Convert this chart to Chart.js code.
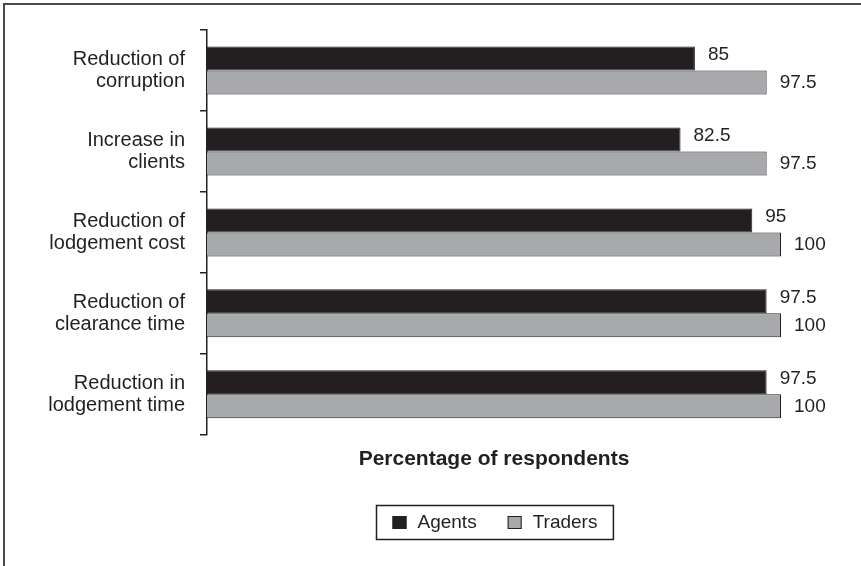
<!DOCTYPE html>
<html>
<head>
<meta charset="utf-8">
<script src="https://cdn.jsdelivr.net/npm/chart.js@4"></script>
<style>
  html, body { margin: 0; padding: 0; background: #fff; }
  #wrap { width: 861px; height: 566px; position: relative; }
</style>
</head>
<body>
<div id="wrap"><canvas id="c" width="861" height="566"></canvas></div>
<script>
// Benefits of the electronic lodgement system, by respondent group
const categories = [
  ['Reduction of', 'corruption'],
  ['Increase in', 'clients'],
  ['Reduction of', 'lodgement cost'],
  ['Reduction of', 'clearance time'],
  ['Reduction in', 'lodgement time']
];
const agents  = [85, 82.5, 95, 97.5, 97.5];
const traders = [97.5, 97.5, 100, 100, 100];
const seriesNames = ['Agents', 'Traders'];
const xAxisTitle = 'Percentage of respondents';

const INK = '#231f20';
const GREY = '#a7a9ac';
const FONT = '"Liberation Sans", Arial, Helvetica, sans-serif';

// Thin frame along the top and left edges of the figure
const framePlugin = {
  id: 'frame',
  beforeDraw(chart) {
    const ctx = chart.ctx;
    ctx.save();
    ctx.fillStyle = '#fff';
    ctx.fillRect(0, 0, chart.width, chart.height);
    ctx.strokeStyle = '#4a4a4a';
    ctx.lineWidth = 2;
    ctx.beginPath();
    ctx.moveTo(4, chart.height);
    ctx.lineTo(4, 4);
    ctx.lineTo(chart.width, 4);
    ctx.stroke();
    ctx.restore();
  }
};

// Value written just past the end of each bar
const valueLabels = {
  id: 'valueLabels',
  afterDatasetsDraw(chart) {
    const ctx = chart.ctx;
    ctx.save();
    ctx.font = '19px ' + FONT;
    ctx.fillStyle = INK;
    ctx.textAlign = 'left';
    ctx.textBaseline = 'middle';
    chart.data.datasets.forEach((ds, di) => {
      const meta = chart.getDatasetMeta(di);
      meta.data.forEach((bar, i) => {
        const lift = di === 0 ? -4 : 0;
        ctx.fillText(String(ds.data[i]), bar.x + 13, bar.y + lift);
      });
    });
    ctx.restore();
  }
};

// Boxed legend centred under the plot area
const boxedLegend = {
  id: 'boxedLegend',
  afterDraw(chart) {
    const ctx = chart.ctx;
    const area = chart.chartArea;
    const xs = chart.scales.x;
    const sq = 14, sqH = 13, gap = 11, spacing = 31, pad = 16, h = 34;
    ctx.save();
    ctx.font = '19px ' + FONT;
    const items = chart.data.datasets.map(ds => ({
      label: ds.label, fill: ds.backgroundColor, w: ctx.measureText(ds.label).width
    }));
    let content = 0;
    items.forEach((it, i) => { content += sq + gap + it.w + (i < items.length - 1 ? spacing : 0); });
    const boxW = content + pad * 2;
    const left = Math.round((area.left + area.right) / 2 - boxW / 2) + 0.5;
    const top = 505.5;
    ctx.strokeStyle = INK;
    ctx.lineWidth = 1.5;
    ctx.strokeRect(left, top, boxW, h);
    const cy = top + h / 2;
    let x = left + pad;
    ctx.textBaseline = 'middle';
    ctx.textAlign = 'left';
    items.forEach(it => {
      ctx.fillStyle = it.fill;
      ctx.fillRect(x, cy - sqH / 2, sq, sqH);
      ctx.lineWidth = 1;
      ctx.strokeStyle = INK;
      ctx.strokeRect(x + 0.5, cy - sqH / 2 + 0.5, sq - 1, sqH - 1);
      ctx.fillStyle = INK;
      ctx.fillText(it.label, x + sq + gap, cy);
      x += sq + gap + it.w + spacing;
    });
    ctx.restore();
  }
};

new Chart(document.getElementById('c'), {
  type: 'bar',
  data: {
    labels: categories,
    datasets: [
      { label: seriesNames[0], data: agents, backgroundColor: INK, borderColor: INK, borderWidth: 1 },
      { label: seriesNames[1], data: traders, backgroundColor: GREY, borderColor: INK, borderWidth: 1 }
    ]
  },
  options: {
    indexAxis: 'y',
    responsive: false,
    animation: false,
    devicePixelRatio: 1,
    categoryPercentage: 0.593,
    barPercentage: 1,
    layout: { padding: { left: 0, top: 30, right: 80, bottom: 94 } },
    plugins: {
      legend: { display: false },
      tooltip: { enabled: false }
    },
    scales: {
      x: {
        min: 0,
        max: 100,
        grid: { display: false, drawTicks: false },
        border: { display: false },
        ticks: { display: false },
        title: {
          display: true,
          text: xAxisTitle,
          color: INK,
          font: { family: FONT, size: 21, weight: 'bold', lineHeight: 1.2 },
          padding: { top: 12, bottom: 0 }
        }
      },
      y: {
        grid: { drawOnChartArea: false, drawTicks: true, tickLength: 7, color: INK, lineWidth: 1.5 },
        border: { display: true, color: INK, width: 1.5 },
        ticks: {
          color: INK,
          padding: 15,
          font: { family: FONT, size: 20, lineHeight: 1.1 }
        },
        afterFit(scale) {
          scale.width = 207;
          scale.paddingTop = 0;
          scale.paddingBottom = 0;
        }
      }
    }
  },
  plugins: [framePlugin, valueLabels, boxedLegend]
});
</script>
</body>
</html>
